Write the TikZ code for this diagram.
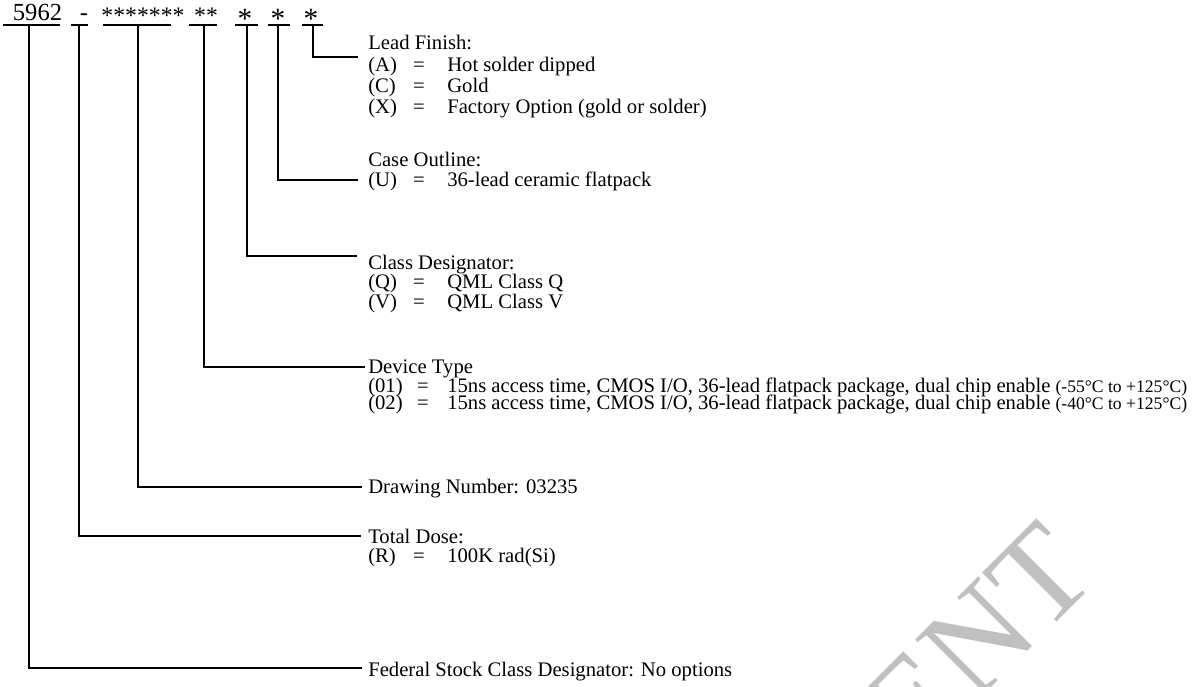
\documentclass[tikz,border=0pt]{standalone}
\usepackage{fontspec}
\setmainfont{Liberation Serif}
\definecolor{wmgray}{RGB}{192,192,192}
\begin{document}
\begin{tikzpicture}[x=0.75pt,y=-0.75pt,
  conn/.style={line width=1.5pt, line cap=rect},
  uline/.style={line width=1.5pt},
  txt/.style={anchor=base west, inner sep=0pt, font=\fontsize{15.5}{18}\selectfont},
  eqs/.style={anchor=base, inner sep=0pt, font=\fontsize{15.5}{18}\selectfont},
  hd/.style={anchor=base, inner sep=0pt, font=\fontsize{18.4}{21}\selectfont},
  star/.style={anchor=base, inner sep=0pt, font=\fontsize{17.8}{20}\selectfont},
  bigstar/.style={anchor=base, inner sep=0pt, font=\fontsize{22}{24}\selectfont},
  wmark/.style={inner sep=0pt, text=wmgray, font=\fontsize{100}{104}\selectfont}]
\useasboundingbox (0,0) rectangle (1198,686);
% watermark
\begin{scope}
\clip (0,0) rectangle (1198,686);
\node[wmark, rotate=45, anchor=base east] (wm) at (1100,579) {ENT};
\end{scope}
% header
\node[hd] (h1) at (37.5,20) {5962};
\node[hd] (h2) at (84,20) {-};
\node[star] (h3) at (143,23) {*******};
\node[star] (h4) at (206,23) {**};
\node[bigstar] (h5) at (245,28) {*};
\node[bigstar] (h6) at (278,28) {*};
\node[bigstar] (h7) at (311,28) {*};
% underlines
\draw[uline] (3,25) -- (60,25);
\draw[uline] (71,25) -- (88,25);
\draw[uline] (103,25) -- (171,25);
\draw[uline] (189,25) -- (217,25);
\draw[uline] (235,25) -- (258,25);
\draw[uline] (268,25) -- (290,25);
\draw[uline] (302,25) -- (323,25);
\coordinate (u1) at (29,25);
\coordinate (u2) at (79,25);
\coordinate (u3) at (138,25);
\coordinate (u4) at (204,25);
\coordinate (u5) at (247,25);
\coordinate (u6) at (278,25);
\coordinate (u7) at (313,25);
\coordinate (e1) at (361,668);
\coordinate (e2) at (360,536);
\coordinate (e3) at (361,487);
\coordinate (e4) at (364,367);
\coordinate (e5) at (356,256);
\coordinate (e6) at (357,180);
\coordinate (e7) at (357,57);
\draw[conn] (u1) |- (e1);
\draw[conn] (u2) |- (e2);
\draw[conn] (u3) |- (e3);
\draw[conn] (u4) |- (e4);
\draw[conn] (u5) |- (e5);
\draw[conn] (u6) |- (e6);
\draw[conn] (u7) |- (e7);
% Lead finish
\node[txt] (lf) at (368,49) {Lead Finish:};
\node[txt] (lfa) at (368,71) {(A)}; \node[eqs] (lfae) at (419,71) {=}; \node[txt] (lfav) at (447,71) {Hot solder dipped};
\node[txt] (lfc) at (368,92) {(C)}; \node[eqs] (lfce) at (419,92) {=}; \node[txt] (lfcv) at (447,92) {Gold};
\node[txt] (lfx) at (368,113) {(X)}; \node[eqs] (lfxe) at (419,113) {=}; \node[txt] (lfxv) at (447,113) {Factory Option (gold or solder)};
% Case outline
\node[txt] (co) at (368,166) {Case Outline:};
\node[txt] (cou) at (368,186) {(U)}; \node[eqs] (coue) at (419,186) {=}; \node[txt] (couv) at (447,186) {36-lead ceramic flatpack};
% Class designator
\node[txt] (cd) at (368,269) {Class Designator:};
\node[txt] (cdq) at (368,288) {(Q)}; \node[eqs] (cdqe) at (419,288) {=}; \node[txt] (cdqv) at (447,288) {QML Class Q};
\node[txt] (cdv) at (368,308) {(V)}; \node[eqs] (cdve) at (419,308) {=}; \node[txt] (cdvv) at (447,308) {QML Class V};
% Device type
\node[txt] (dt) at (368,373) {Device Type};
\node[txt] (dt1) at (368,392) {(01)}; \node[eqs] (dt1e) at (423,392) {=}; \node[txt] (dt1v) at (447,392) {15ns access time, CMOS I/O, 36-lead flatpack package, dual chip enable {\fontsize{13.2}{15}\selectfont(-55°C to +125°C)}};
\node[txt] (dt2) at (368,409) {(02)}; \node[eqs] (dt2e) at (423,409) {=}; \node[txt] (dt2v) at (447,409) {15ns access time, CMOS I/O, 36-lead flatpack package, dual chip enable {\fontsize{13.2}{15}\selectfont(-40°C to +125°C)}};
% Drawing number
\node[txt] (dn) at (368,493) {Drawing Number: 03235};
% Total dose
\node[txt] (td) at (368,543) {Total Dose:};
\node[txt] (tdr) at (368,562) {(R)}; \node[eqs] (tdre) at (419,562) {=}; \node[txt] (tdrv) at (447,562) {100K rad(Si)};
% Federal
\node[txt] (fs) at (368,676) {Federal Stock Class Designator: No options};
\end{tikzpicture}
\end{document}
